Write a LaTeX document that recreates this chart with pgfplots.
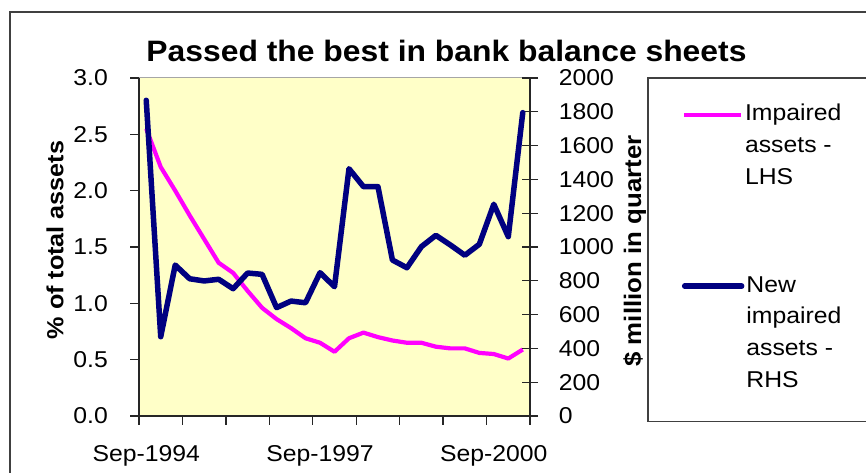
\documentclass[border=0pt]{standalone}
\usepackage{fontspec}
\setmainfont{Liberation Sans}[FakeStretch=1.08]
\usepackage{pgfplots}
\pgfplotsset{compat=1.18}
\definecolor{bgyellow}{RGB}{255,255,200}
\definecolor{navyblue}{RGB}{0,0,128}
\definecolor{pinkline}{RGB}{255,0,255}
\definecolor{framegray}{RGB}{64,64,64}
\pgfplotsset{my line legend/.style={legend image code/.code={\draw[##1] (0bp,6bp) -- (57bp,6bp);}},
  my legend/.style={legend style={at={(axis description cs:1.388,#1)}, anchor=north west,
    draw=none, fill=none, inner sep=0pt,
    cells={anchor=base west, inner sep=0pt,
      font=\fontsize{23}{32}\selectfont}}}}

\pgfplotstableread{
idx val
0 2.55
1 2.21
2 2.00
3 1.78
4 1.57
5 1.36
6 1.27
7 1.11
8 0.96
9 0.86
10 0.78
11 0.69
12 0.65
13 0.57
14 0.69
15 0.74
16 0.70
17 0.67
18 0.65
19 0.65
20 0.615
21 0.60
22 0.60
23 0.56
24 0.55
25 0.51
26 0.59
}\impaired

\pgfplotstableread{
idx val
0 1868
1 469
2 893
3 812
4 799
5 809
6 753
7 846
8 838
9 641
10 680
11 670
12 848
13 765
14 1463
15 1357
16 1357
17 923
18 877
19 1002
20 1069
21 1012
22 951
23 1016
24 1253
25 1061
26 1795
}\newimpaired

\begin{document}
\begin{tikzpicture}[x=1bp,y=1bp]
\path[use as bounding box] (0,0) rectangle (866,473);
\begin{scope}
\clip (0,0) rectangle (866,473);
\draw[line width=1.5bp, color=framegray] (10,461) rectangle (900,-30);
\draw[line width=1.2bp, color=framegray] (648,395) rectangle (900,51.3);
\end{scope}
\node[anchor=base, font=\fontsize{29.6}{34}\selectfont\bfseries] at (446.5,411.3) {Passed the best in bank balance sheets};

\begin{axis}[
  at={(139bp,57bp)}, anchor=south west, scale only axis,
  width=391bp, height=338bp,
  xmin=-0.5, xmax=26.5, ymin=0, ymax=3,
  axis x line*=bottom, axis y line*=left,
  axis line style={line width=1.3bp, black!85},
  every tick/.style={line width=1.3bp, black!85},
  axis background/.style={fill=bgyellow},
  tick align=outside, major tick length=9bp,
  xtick={-0.5,2.5,...,26.5}, xticklabels={},
  extra x ticks={0,12,24},
  extra x tick labels={Sep-1994,Sep-1997,Sep-2000},
  extra x tick style={major tick length=0pt},
  xticklabel style={anchor=north, inner sep=0pt, yshift=-29bp},
  ytick={0,0.5,...,3},
  yticklabel style={anchor=east, inner sep=0pt, xshift=-22bp,
    /pgf/number format/.cd, fixed, fixed zerofill, precision=1},
  /pgf/number format/assume math mode=true,
  ticklabel style={font=\fontsize{23}{27}\selectfont},
  ylabel={\% of total assets},
  ylabel style={font=\fontsize{23.4}{28}\selectfont\bfseries,
    at={(axis description cs:-0.1936,0.5207)}, anchor=base, rotate=0},
  my legend=0.946,
]
\draw[gray!70, line width=1bp] (rel axis cs:0,1) -- (rel axis cs:1,1);
\addplot[pinkline, line width=4.2bp, line join=round, no marks, my line legend]
  table[x=idx, y=val] {\impaired};
\addlegendentry{\begin{tabular}[t]{@{}l@{}}Impaired\\assets -\\LHS\end{tabular}}
\end{axis}

\begin{axis}[
  at={(139bp,57bp)}, anchor=south west, scale only axis,
  width=391bp, height=338bp,
  xmin=-0.5, xmax=26.5, ymin=0, ymax=2000,
  axis x line=none, axis y line*=right,
  axis line style={line width=1.3bp, black!85},
  every tick/.style={line width=1.3bp, black!85},
  tick align=center, major tick length=16bp,
  ytick={0,200,...,2000},
  yticklabel style={anchor=west, inner sep=0pt, xshift=20.7bp,
    /pgf/number format/.cd, 1000 sep={}},
  /pgf/number format/assume math mode=true,
  ticklabel style={font=\fontsize{23}{27}\selectfont},
  ylabel={\$ million in quarter},
  ylabel style={font=\fontsize{24}{28}\selectfont\bfseries,
    at={(axis description cs:1.2839,0.488)}, anchor=base, rotate=0},
  my legend=0.439,
]
\addplot[navyblue, line width=5.5bp, line join=round, line cap=round, no marks, my line legend]
  table[x=idx, y=val] {\newimpaired};
\addlegendentry{\begin{tabular}[t]{@{}l@{}}New\\impaired\\assets -\\RHS\end{tabular}}
\end{axis}
\end{tikzpicture}
\end{document}
